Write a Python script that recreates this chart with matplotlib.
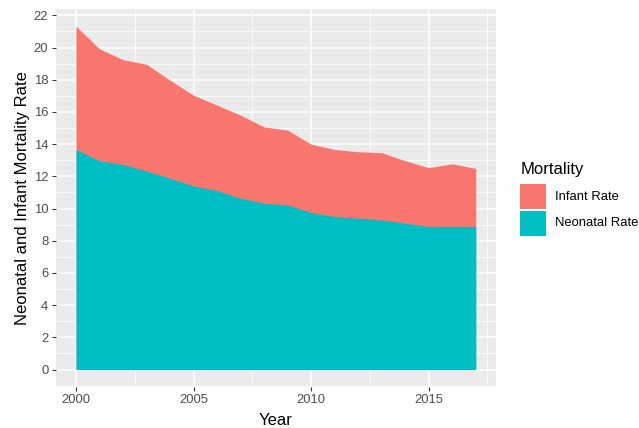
import numpy as np
import matplotlib
matplotlib.use("Agg")
import matplotlib.pyplot as plt
from matplotlib.patches import Rectangle
from matplotlib.ticker import MultipleLocator

# Data
years = np.arange(2000, 2018)
infant_rate = [21.33, 19.92, 19.25, 18.96, 17.97, 17.04, 16.42, 15.80, 15.07,
               14.87, 14.00, 13.67, 13.53, 13.47, 12.97, 12.54, 12.78, 12.49]
neonatal_rate = [13.67, 12.97, 12.74, 12.33, 11.88, 11.40, 11.11, 10.64, 10.33,
                 10.22, 9.75, 9.50, 9.40, 9.29, 9.09, 8.88, 8.88, 8.88]
series_names = ["Infant Rate", "Neonatal Rate"]

INFANT_COL = "#F8766D"
NEO_COL = "#00BFC4"

plt.rcParams['font.family'] = ['Liberation Sans', 'DejaVu Sans']

W, H = 639, 428
fig = plt.figure(figsize=(W / 100, H / 100), dpi=100)
ax = fig.add_axes([56 / W, 1 - 386.7 / H, (495.7 - 56) / W, (386.7 - 9) / H])
ax.set_facecolor("#EBEBEB")

# grid
ax.xaxis.set_major_locator(MultipleLocator(5))
ax.xaxis.set_minor_locator(MultipleLocator(2.5))
ax.yaxis.set_major_locator(MultipleLocator(2))
ax.yaxis.set_minor_locator(MultipleLocator(1))
ax.grid(True, which="major", color="white", lw=1.1)
ax.grid(True, which="minor", color="white", lw=0.55)
ax.set_axisbelow(True)
for s in ax.spines.values():
    s.set_visible(False)

# areas (identity positioning)
ax.fill_between(years, 0, infant_rate, color=INFANT_COL, lw=0)
ax.fill_between(years, 0, neonatal_rate, color=NEO_COL, lw=0)

ymax = max(infant_rate)
ax.set_xlim(2000 - 0.05 * 17, 2017 + 0.05 * 17)
ax.set_ylim(-0.05 * ymax, ymax * 1.05)

ax.tick_params(which="major", length=3, width=0.8, color="#333333",
               labelsize=9.4, labelcolor="#4D4D4D", pad=2.5)
ax.tick_params(which="minor", length=0)

ax.set_xlabel("Year", fontsize=12, labelpad=5)
ax.set_ylabel("Neonatal and Infant Mortality Rate", fontsize=12, labelpad=3)

# legend drawn by hand in pixel positions
def fx(px):
    return px / W

def fy(py):
    return 1 - py / H

fig.text(fx(520.5), fy(174), "Mortality", fontsize=12, ha="left",
         va="baseline", color="black")
key_tops = [184.3, 210.7]
for name, col, top in zip(series_names, [INFANT_COL, NEO_COL], key_tops):
    fig.patches.append(Rectangle((fx(520), fy(top + 25)), fx(26), 25 / H,
                                 transform=fig.transFigure, facecolor=col,
                                 edgecolor="none"))
    fig.text(fx(555), fy(top + 12.8), name, fontsize=9.4, ha="left",
             va="center", color="black")

fig.savefig("out.png", dpi=100)
